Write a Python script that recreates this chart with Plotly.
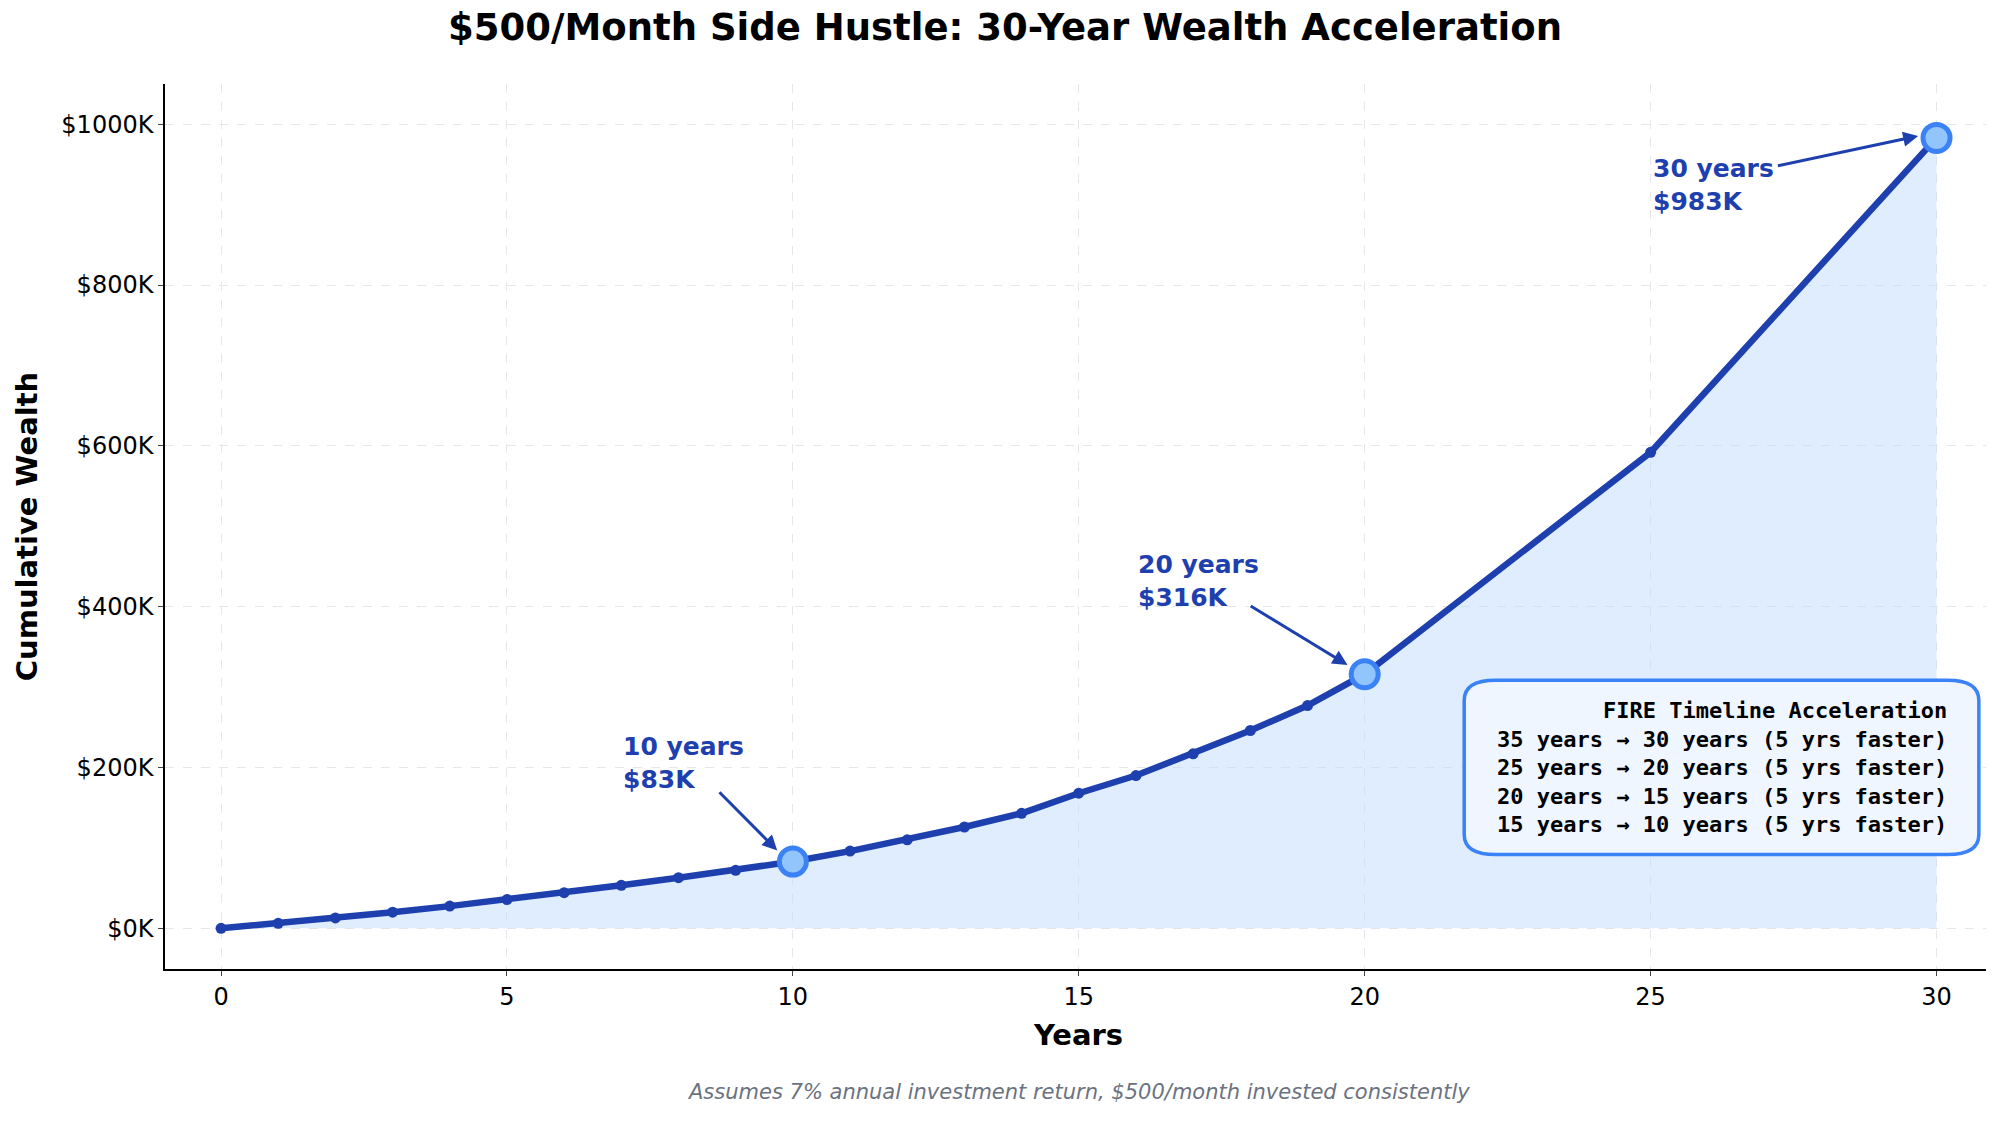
import plotly.graph_objects as go

years = [0,1,2,3,4,5,6,7,8,9,10,11,12,13,14,15,16,17,18,19,20,25,30]
wealth_k = [0,6.2,12.9,20.1,27.6,35.8,44.3,53.5,62.9,72.1,83,96,110,126,143,168,190,217,246,277,316,592,983]
milestone_years = [10,20,30]
milestone_vals = [83,316,983]
milestone_labels = ["10 years<br>$83K","20 years<br>$316K","30 years<br>$983K"]
label_pos = [(7,205),(16,432),(25,925)]
arrow_start = [(8.69,171),(17.98,402),(27.2,948)]
yticks = [0,200,400,600,800,1000]
box_lines = ["<b>FIRE Timeline Acceleration</b>",
             "35 years → 30 years (5 yrs faster)",
             "25 years → 20 years (5 yrs faster)",
             "20 years → 15 years (5 yrs faster)",
             "15 years → 10 years (5 yrs faster)"]

dark = "#1e40af"
fig = go.Figure()
fig.add_trace(go.Scatter(x=years, y=wealth_k, mode="lines+markers", fill="tozeroy",
    fillcolor="rgba(191,219,254,0.5)", line=dict(color=dark, width=6.5),
    marker=dict(size=11, color=dark), showlegend=False))
fig.add_trace(go.Scatter(x=milestone_years, y=milestone_vals, mode="markers",
    marker=dict(size=27, color="#93c5fd", line=dict(color="#3b82f6", width=5)), showlegend=False))
for (mx, my, lab, (lx, ly), (sx, sy)) in zip(milestone_years, milestone_vals, milestone_labels, label_pos, arrow_start):
    fig.add_annotation(x=mx-0.15, y=my+5, ax=sx, ay=sy, xref="x", yref="y", axref="x", ayref="y",
        text="", showarrow=True, arrowhead=2, arrowwidth=3, arrowcolor=dark, standoff=10)
    fig.add_annotation(x=lx, y=ly, xref="x", yref="y", text="<b>"+lab+"</b>", showarrow=False,
        xanchor="left", yanchor="middle", align="left", font=dict(size=25, color=dark))
# rounded box
x0, x1, y0, y1, rx, ry = 21.74, 30.74, 91.8, 308.5, 0.55, 25
path = (f"M{x0+rx},{y0} L{x1-rx},{y0} Q{x1},{y0} {x1},{y0+ry} L{x1},{y1-ry} Q{x1},{y1} {x1-rx},{y1} "
        f"L{x0+rx},{y1} Q{x0},{y1} {x0},{y1-ry} L{x0},{y0+ry} Q{x0},{y0} {x0+rx},{y0} Z")
fig.add_shape(type="path", path=path, xref="x", yref="y", fillcolor="#eff6ff",
              line=dict(color="#3b82f6", width=3.5), layer="above")
fig.add_annotation(x=(x0+x1)/2, y=(y0+y1)/2, xref="x", yref="y", showarrow=False,
    text="<br>".join("<b>"+l+"</b>" if i else l for i, l in enumerate(box_lines)),
    align="right", font=dict(family="DejaVu Sans Mono", size=22, color="black"))
fig.add_annotation(x=0.5, y=-0.155, xref="paper", yref="paper", showarrow=False,
    text="<i>Assumes 7% annual investment return, $500/month invested consistently</i>",
    font=dict(size=21, color="#6b7280"))
fig.update_layout(
    width=1994, height=1142, plot_bgcolor="white", paper_bgcolor="white",
    font=dict(family="DejaVu Sans", size=24, color="black"),
    title=dict(text="<b>$500/Month Side Hustle: 30-Year Wealth Acceleration</b>", x=0.5, y=0.995,
               yanchor="top", xanchor="center", font=dict(size=37)),
    margin=dict(l=157, r=10, t=76, b=181),
    xaxis=dict(range=[-0.98,30.97], tickvals=[0,5,10,15,20,25,30], showline=True, linecolor="black",
               linewidth=1.5, ticks="outside", showgrid=True, gridcolor="#e5e7eb", griddash="dash",
               zeroline=False, title=dict(text="<b>Years</b>", font=dict(size=29))),
    yaxis=dict(range=[-50.6,1050], tickvals=yticks, ticktext=["$%dK" % v for v in yticks],
               showline=True, linecolor="black", linewidth=1.5, ticks="outside", showgrid=True,
               gridcolor="#e5e7eb", griddash="dash", zeroline=False,
               title=dict(text="<b>Cumulative Wealth</b>", font=dict(size=29))),
)
fig.write_html("out.html")
